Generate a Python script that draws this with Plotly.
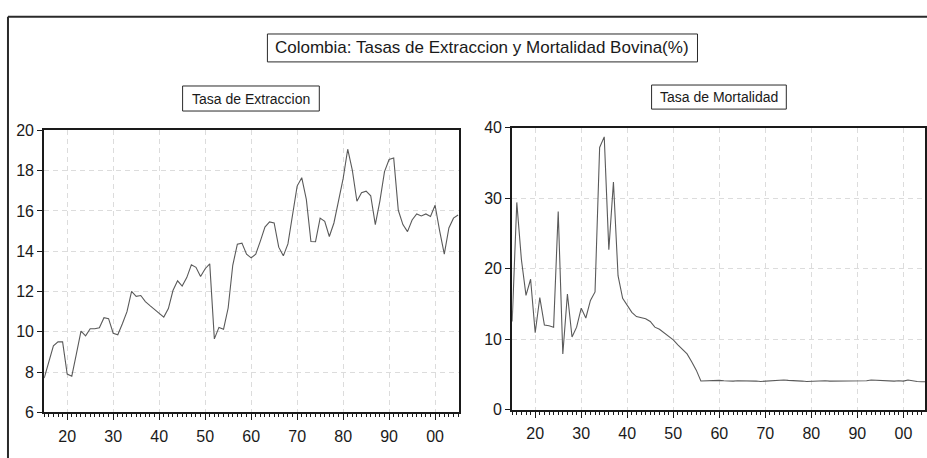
import plotly.graph_objects as go

# Annual series, 1915-2005
years = list(range(1915, 2006))

tasa_extraccion = [
    7.7, 8.5, 9.3, 9.5, 9.5, 7.9, 7.8, 8.9, 10.03, 9.8,
    10.15, 10.15, 10.2, 10.7, 10.65, 9.93, 9.85, 10.4, 11.0, 12.0,
    11.76, 11.8, 11.5, 11.3, 11.1, 10.93, 10.73, 11.15, 12.05, 12.53,
    12.27, 12.69, 13.33, 13.2, 12.74, 13.13, 13.37, 9.65, 10.22, 10.13,
    11.18, 13.3, 14.35, 14.4, 13.85, 13.67, 13.85, 14.5, 15.2, 15.45,
    15.4, 14.2, 13.77, 14.36, 15.88, 17.23, 17.65, 16.57, 14.48, 14.47,
    15.64, 15.48, 14.73, 15.4, 16.5, 17.6, 19.06, 18.02, 16.48, 16.9,
    16.98, 16.75, 15.32, 16.5, 17.95, 18.55, 18.62, 16.03, 15.32, 14.97,
    15.55, 15.85, 15.75, 15.85, 15.72, 16.28, 15.0, 13.85, 15.15, 15.64,
    15.8,
]

tasa_mortalidad = [
    12.5, 29.4, 21.3, 16.2, 18.5, 10.9, 15.9, 12.0, 11.9, 11.7,
    28.1, 7.9, 16.4, 10.3, 11.7, 14.4, 13.0, 15.5, 16.7, 37.2,
    38.7, 22.7, 32.3, 19.0, 15.8, 14.7, 13.8, 13.2, 13.0, 12.9,
    12.5, 11.7, 11.4, 10.9, 10.5, 9.9, 9.2, 8.6, 7.9, 6.8,
    5.6, 4.07, 4.1, 4.1, 4.15, 4.15, 4.1, 4.05, 4.05, 4.1,
    4.1, 4.15, 4.1, 4.05, 4.0, 4.05, 4.0, 4.05, 4.15, 4.2,
    4.15, 4.15, 4.1, 4.05, 4.0, 4.05, 4.05, 4.05, 4.1, 4.05,
    4.05, 4.1, 4.05, 4.05, 4.05, 4.0, 4.0, 4.1, 4.2, 4.15,
    4.15, 4.1, 4.1, 4.05, 4.1, 4.05, 4.2, 4.05, 4.0, 3.95,
    3.95,
]

x_tick_vals = [1920, 1930, 1940, 1950, 1960, 1970, 1980, 1990, 2000]
x_tick_text = ["20", "30", "40", "50", "60", "70", "80", "90", "00"]
y_ticks_extraccion = [6, 8, 10, 12, 14, 16, 18, 20]
y_ticks_mortalidad = [0, 10, 20, 30, 40]

main_title = "Colombia: Tasas de Extraccion y Mortalidad Bovina(%)"
panel_titles = ["Tasa de Extraccion", "Tasa de Mortalidad"]

W, H = 927, 458
FONT = "Liberation Sans, Arial, sans-serif"
INK = "#1a1a1a"


def fx(px):
    return px / W


def fy(py):
    return 1 - py / H


fig = go.Figure()

fig.add_trace(go.Scatter(x=years, y=tasa_extraccion, mode="lines",
                         line=dict(color="#5a5a5a", width=1.1),
                         xaxis="x", yaxis="y", showlegend=False,
                         hoverinfo="skip"))
fig.add_trace(go.Scatter(x=years, y=tasa_mortalidad, mode="lines",
                         line=dict(color="#5a5a5a", width=1.1),
                         xaxis="x2", yaxis="y2", showlegend=False,
                         hoverinfo="skip"))

axis_common = dict(
    showline=True, linecolor=INK, linewidth=2, mirror=True,
    showgrid=True, gridcolor="#dcdcdc", griddash="5px,4px", gridwidth=1,
    zeroline=False, ticks="outside", tickcolor=INK, tickwidth=1,
    tickfont=dict(family=FONT, size=16, color=INK),
)

xaxis_common = dict(
    axis_common, tickvals=x_tick_vals, ticktext=x_tick_text, ticklen=6,
    ticklabelstandoff=2,
    minor=dict(dtick=1, tick0=1915, ticks="outside", ticklen=3,
               tickcolor=INK, tickwidth=1, showgrid=False),
)

fig.update_layout(
    width=W, height=H,
    margin=dict(l=0, r=0, t=0, b=0),
    paper_bgcolor="white", plot_bgcolor="white",
    xaxis=dict(xaxis_common, domain=[fx(44.3), fx(460)], range=[1915, 2005.2],
               anchor="y"),
    yaxis=dict(axis_common, domain=[fy(420), fy(127)], range=[6, 20],
               tickvals=y_ticks_extraccion, ticklen=5, anchor="x"),
    xaxis2=dict(xaxis_common, domain=[fx(513.3), 1.0], range=[1915, 2004.7],
                anchor="y2"),
    yaxis2=dict(axis_common, domain=[fy(417.1), fy(124.3)], range=[0, 40],
                tickvals=y_ticks_mortalidad, ticklen=5, anchor="x2"),
)

# Outer frame (top and left edges) and the title boxes
shapes = [
    dict(type="line", xref="paper", yref="paper",
         x0=fx(8), x1=fx(940), y0=fy(9), y1=fy(9),
         line=dict(color="#2a2a2a", width=2)),
    dict(type="line", xref="paper", yref="paper",
         x0=fx(8), x1=fx(8), y0=fy(9), y1=fy(470),
         line=dict(color="#2a2a2a", width=2)),
    dict(type="rect", xref="paper", yref="paper",
         x0=fx(268), x1=fx(699), y0=fy(56), y1=fy(27),
         line=dict(color="#2a2a2a", width=1)),
    dict(type="rect", xref="paper", yref="paper",
         x0=fx(183), x1=fx(320), y0=fy(107), y1=fy(81),
         line=dict(color="#2a2a2a", width=1)),
    dict(type="rect", xref="paper", yref="paper",
         x0=fx(653), x1=fx(788), y0=fy(105), y1=fy(80),
         line=dict(color="#2a2a2a", width=1)),
]
fig.update_layout(shapes=shapes)

annotations = [
    dict(text=main_title, x=fx(483.5), y=fy(41.5), xref="paper", yref="paper",
         showarrow=False, xanchor="center", yanchor="middle",
         font=dict(family=FONT, size=17, color=INK)),
    dict(text=panel_titles[0], x=fx(251.5), y=fy(94), xref="paper", yref="paper",
         showarrow=False, xanchor="center", yanchor="middle",
         font=dict(family=FONT, size=14, color=INK)),
    dict(text=panel_titles[1], x=fx(720.5), y=fy(92.5), xref="paper", yref="paper",
         showarrow=False, xanchor="center", yanchor="middle",
         font=dict(family=FONT, size=14, color=INK)),
]
fig.update_layout(annotations=annotations)

fig.write_html("out.html")
